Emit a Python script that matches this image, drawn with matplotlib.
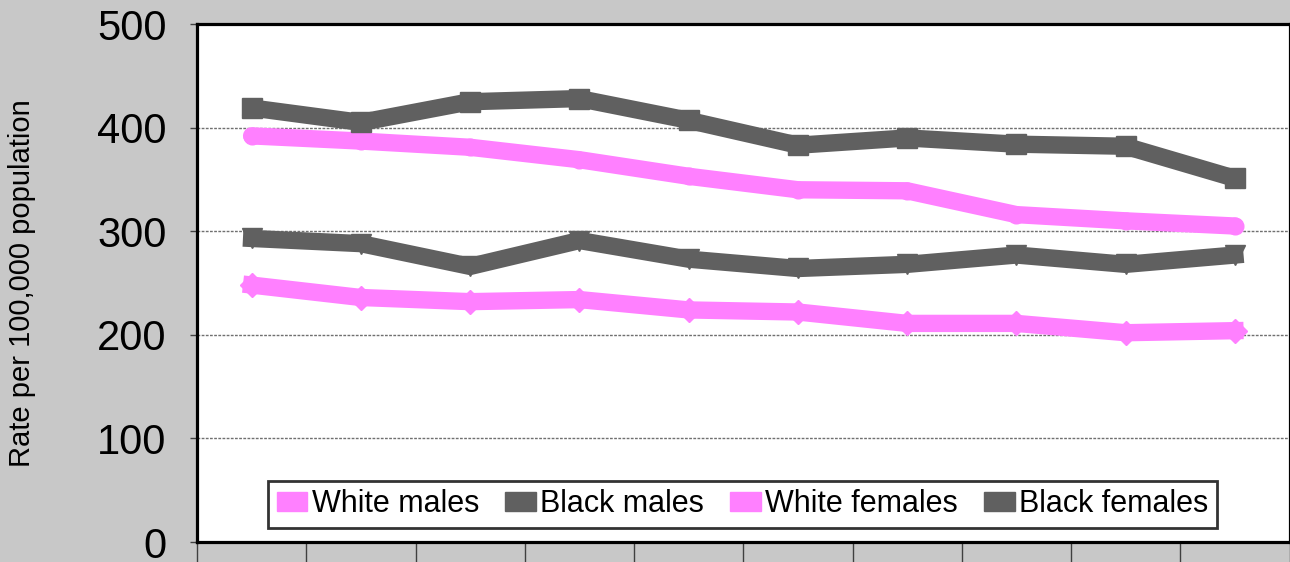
import matplotlib
matplotlib.use("Agg")
import matplotlib.pyplot as plt
from matplotlib.patches import Patch

plt.rcParams['font.family'] = ['Liberation Sans', 'DejaVu Sans']

categories = list(range(10))
white_males = [392, 387, 381, 369, 353, 340, 339, 316, 310, 305]
black_males = [419, 405, 425, 428, 407, 383, 390, 384, 382, 351]
white_females = [248, 236, 232, 234, 224, 222, 211, 211, 202, 204]
black_females = [293, 288, 266, 291, 273, 264, 268, 277, 268, 277]
series_names = ["White males", "Black males", "White females", "Black females"]
yticks = [0, 100, 200, 300, 400, 500]

PINK = "#FF80FF"
GRAY = "#606060"
BG = "#C8C8C8"

fig = plt.figure(figsize=(12.9, 5.62), dpi=100, facecolor=BG)
axw = (1289.5 - 197) / 1290
ax = fig.add_axes([197/1290, 1-542/562, axw, (542-24)/562])
ax.set_facecolor("white")

lw = 12.5
ax.plot(categories, white_males, color=PINK, lw=lw, marker='o', ms=12, solid_capstyle='round', zorder=3)
ax.plot(categories, black_males, color=GRAY, lw=lw, marker='s', ms=15, zorder=3)
ax.plot(categories, white_females, color=PINK, lw=lw, marker='D', ms=12, zorder=3)
ax.plot(categories, black_females, color=GRAY, lw=lw, marker='v', ms=14, zorder=3)

ax.set_ylim(0, 500)
ax.set_xlim(-0.5, 9.5)
ax.set_yticks(yticks)
ax.set_yticklabels([str(v) for v in yticks], fontsize=30)
for v in yticks[1:-1]:
    ax.axhline(v, color="#707070", lw=1, ls=(0, (2, 1)), zorder=1)

ax.set_xticks([i - 0.5 for i in range(11)])
ax.set_xticklabels([])
ax.tick_params(axis='x', direction='out', length=22, width=1, color="#404040")
ax.tick_params(axis='y', direction='out', length=5, width=1, pad=17, color="#404040")

for s in ax.spines.values():
    s.set_linewidth(2.3)
    s.set_color("black")

ax.set_ylabel("Rate per 100,000 population", fontsize=21)
ax.yaxis.set_label_coords(-(197-36)/(1289.5-197), 0.5)

handles = [Patch(facecolor=PINK, edgecolor=PINK),
           Patch(facecolor=GRAY, edgecolor=GRAY),
           Patch(facecolor=PINK, edgecolor=PINK),
           Patch(facecolor=GRAY, edgecolor=GRAY)]
leg = ax.legend(handles, series_names, loc='lower center', bbox_to_anchor=(0.4993, 0.027),
                ncol=4, fontsize=22, frameon=True, fancybox=False, edgecolor='black',
                handlelength=1.0, handleheight=0.6, handletextpad=0.15, columnspacing=0.85,
                borderpad=0.28, borderaxespad=0)
leg.get_frame().set_linewidth(2)

fig.savefig("out.png", dpi=100, facecolor=BG)
